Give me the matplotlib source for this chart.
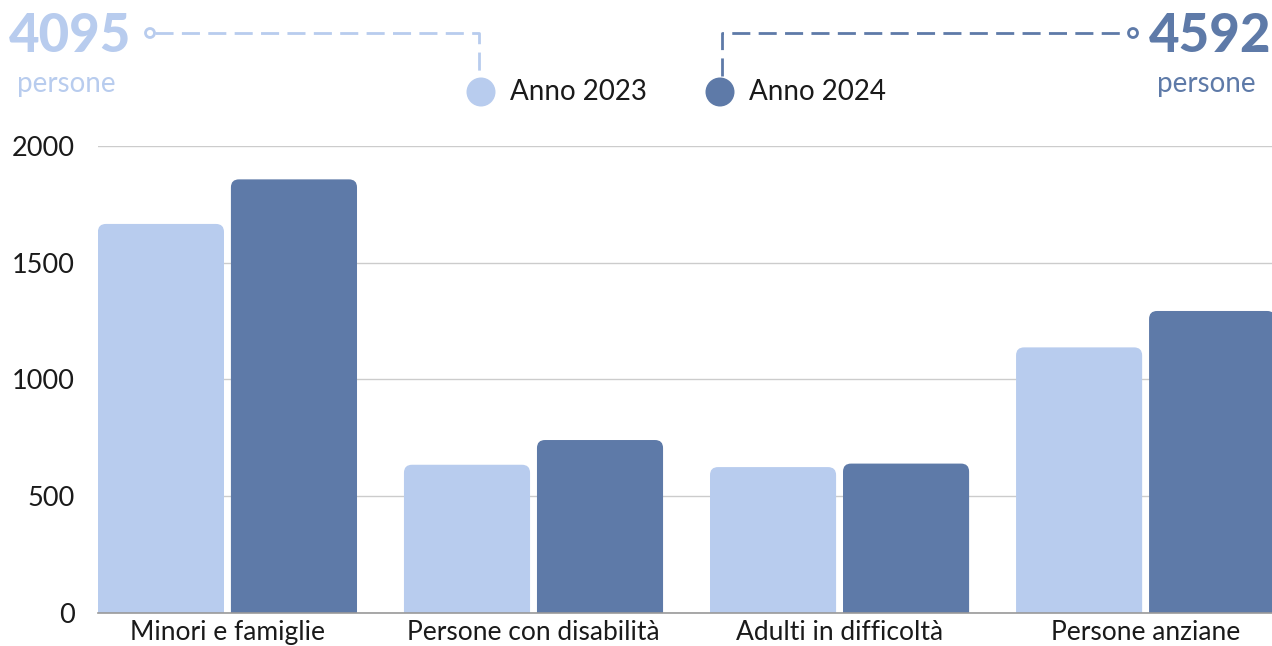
import matplotlib.pyplot as plt
import numpy as np
from matplotlib.patches import FancyBboxPatch, Circle

plt.rcParams['font.family'] = ['Lato', 'DejaVu Sans']

categories = ["Minori e famiglie", "Persone con disabilità", "Adulti in difficoltà", "Persone anziane"]
values_2023 = [1666, 634, 624, 1137]
values_2024 = [1857, 740, 639, 1293]
series_labels = ["Anno 2023", "Anno 2024"]
totals = [4095, 4592]
yticks = [0, 500, 1000, 1500, 2000]

LIGHT = "#b8ccee"
DARK = "#5e7aa8"
TEXT = "#1a1a1a"

W, H = 1272, 646
fig = plt.figure(figsize=(W / 100, H / 100), dpi=100)
ax = fig.add_axes([98 / W, (H - 612.7) / H, 1174 / W, 466.7 / H])

x = np.arange(len(categories))
bw = 0.412
off = 0.2173
bars = []
bars.append(ax.bar(x - off, values_2023, bw, color=LIGHT, zorder=2))
bars.append(ax.bar(x + off, values_2024, bw, color=DARK, zorder=2))

ax.set_xlim(-0.423, 3.413)
ax.set_ylim(0, 2000)

# rounded top corners: swap each rectangle for a rounded box that dips below 0
r_x = 8 / 306
r_y = 8 / 0.2333
for cont in bars:
    for p in cont.patches:
        fb = FancyBboxPatch((p.get_x(), -2 * r_y), p.get_width(), p.get_height() + 2 * r_y,
                            boxstyle=f"round,pad=0,rounding_size={r_x}",
                            mutation_aspect=r_y / r_x,
                            facecolor=p.get_facecolor(), edgecolor="none", zorder=2)
        p.set_visible(False)
        ax.add_patch(fb)

ax.set_yticks(yticks)
ax.set_yticklabels([str(t) for t in yticks])
ax.set_xticks(x)
ax.set_xticklabels(categories)
ax.tick_params(axis="y", length=0, pad=17, labelsize=19.5, labelcolor=TEXT)
ax.tick_params(axis="x", length=0, pad=5, labelsize=19, labelcolor=TEXT)
ax.grid(axis="y", color="#cccccc", linewidth=1, zorder=0)
for s in ["top", "right", "left"]:
    ax.spines[s].set_visible(False)
ax.spines["bottom"].set_color("#999999")
ax.spines["bottom"].set_linewidth(1.2)
ax.spines["bottom"].set_zorder(3)

# overlay for legend and totals, pixel coordinates
ov = fig.add_axes([0, 0, 1, 1])
ov.set_xlim(0, W)
ov.set_ylim(H, 0)
ov.axis("off")
ov.patch.set_alpha(0)

dash = dict(linewidth=2, linestyle=(0, (6.5, 3)), zorder=1)
# 2023 connector
ov.plot([155, 479, 479], [33, 33, 76], color=LIGHT, **dash)
ov.add_patch(Circle((150, 33), 4.5, facecolor="white", edgecolor=LIGHT, linewidth=2, zorder=2))
ov.add_patch(Circle((481, 92), 14.5, facecolor=LIGHT, edgecolor="none", zorder=2))
ov.text(510, 92, series_labels[0], fontsize=20, color=TEXT, va="center", ha="left")
ov.text(9, 36, str(totals[0]), fontsize=38, fontweight="black", color=LIGHT, va="center", ha="left")
ov.text(66, 84, "persone", fontsize=20, color=LIGHT, va="center", ha="center")

# 2024 connector
ov.plot([722, 722, 1128], [76, 33, 33], color=DARK, **dash)
ov.add_patch(Circle((1133, 33), 4.5, facecolor="white", edgecolor=DARK, linewidth=2, zorder=2))
ov.add_patch(Circle((720, 92), 14.5, facecolor=DARK, edgecolor="none", zorder=2))
ov.text(749, 92, series_labels[1], fontsize=20, color=TEXT, va="center", ha="left")
ov.text(1271, 36, str(totals[1]), fontsize=38, fontweight="black", color=DARK, va="center", ha="right")
ov.text(1206, 84, "persone", fontsize=20, color=DARK, va="center", ha="center")

fig.savefig("out.png", dpi=100)
